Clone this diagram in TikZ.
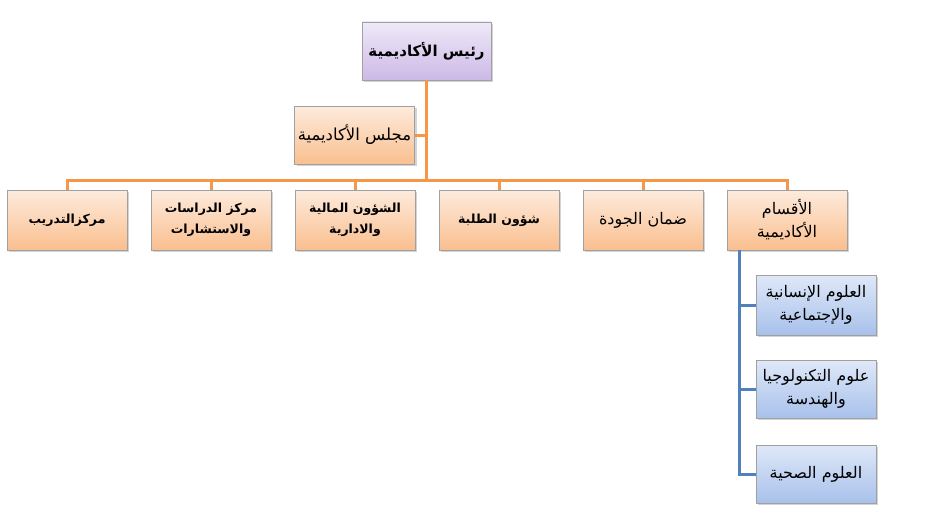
\documentclass[tikz,border=0pt]{standalone}
\usepackage{fontspec}
\usetikzlibrary{shadows}
\TeXXeTstate=1
\newfontfamily\arabicfont[Script=Arabic]{DejaVu Sans}
\definecolor{orangetop}{HTML}{FDEBDD}
\definecolor{orangebot}{HTML}{FABF8F}
\definecolor{purpletop}{HTML}{EFE9F8}
\definecolor{purplebot}{HTML}{CCB9E6}
\definecolor{bluetop}{HTML}{DFE8F8}
\definecolor{bluebot}{HTML}{A8C1EB}
\definecolor{orangeline}{HTML}{F79646}
\definecolor{blueline}{HTML}{4F81BD}
\definecolor{boxborder}{HTML}{A0A0A0}

\begin{document}
\begin{tikzpicture}[x=1pt, y={(0pt,-1pt)},
  every box/.style={draw=boxborder, line width=0.8pt, minimum width=120pt, minimum height=60pt,
    inner sep=1pt, align=center, font=\arabicfont\fontsize{16}{23}\selectfont,
    drop shadow={shadow xshift=2pt, shadow yshift=-2pt, opacity=0.35}},
  boldtext/.style={font=\arabicfont\bfseries\fontsize{12.5}{21}\selectfont},
  unitbox/.style={every box, top color=orangetop, bottom color=orangebot},
  headbox/.style={every box, top color=purpletop, bottom color=purplebot, minimum width=129pt, minimum height=58pt},
  deptbox/.style={every box, top color=bluetop, bottom color=bluebot},
  orangelink/.style={orangeline, line width=3pt},
  bluelink/.style={blueline, line width=3pt}]
  \useasboundingbox (0,0) rectangle (934,527);

  % top of the chart
  \node[headbox, font=\arabicfont\bfseries\fontsize{15}{18}\selectfont] (head) at (426.5,51) {\beginR رئيس الأكاديمية\endR};
  \node[unitbox, minimum height=58pt, font=\arabicfont\fontsize{16.5}{20}\selectfont] (council) at (354.5,135) {\beginR مجلس الأكاديمية\endR};
  \coordinate (hub) at (426.5,180);

  % second row
  \node[unitbox, boldtext] (b1) at (67,220) {\beginR مركزالتدريب\endR};
  \node[unitbox, boldtext] (b2) at (211,220) {\beginR مركز الدراسات\endR\\\beginR والاستشارات\endR};
  \node[unitbox, boldtext] (b3) at (355,220) {\beginR الشؤون المالية\endR\\\beginR والادارية\endR};
  \node[unitbox, boldtext] (b4) at (499,220) {\beginR شؤون الطلبة\endR};
  \node[unitbox] (b5) at (643,220) {\beginR ضمان الجودة\endR};
  \node[unitbox] (b6) at (787,220) {\beginR الأقسام\endR\\\beginR الأكاديمية\endR};

  % academic departments
  \node[deptbox] (c1) at (816,305) {\beginR العلوم الإنسانية\endR\\\beginR والإجتماعية\endR};
  \node[deptbox, minimum height=58pt] (c2) at (816,389) {\beginR علوم التكنولوجيا\endR\\\beginR والهندسة\endR};
  \node[deptbox, minimum height=58pt] (c3) at (816,474) {\beginR العلوم الصحية\endR};
  \coordinate (trunk) at (739,250);

  % connectors
  \draw[orangelink] (head.south) -- (hub);
  \draw[orangelink] (council.east) -- (council.east -| hub);
  \draw[orangelink, line cap=rect] (b1.north |- hub) -- (b6.north |- hub);
  \foreach \n in {b1,b2,b3,b4,b5,b6}
    \draw[orangelink] (\n.north) -- (\n.north |- hub);
  \draw[bluelink] (trunk) |- (c3.west);
  \foreach \n in {c1,c2}
    \draw[bluelink] (\n.west -| trunk) -- (\n.west);
\end{tikzpicture}
\end{document}
